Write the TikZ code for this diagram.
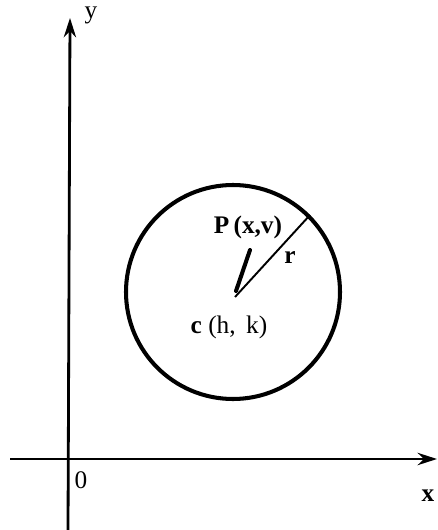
\documentclass[tikz,border=0pt]{standalone}
\usepackage{fontspec}
\setmainfont{Liberation Serif}
\usetikzlibrary{arrows.meta}

\begin{document}
\begin{tikzpicture}[x=0.02cm, y=-0.02cm,
      axis/.style={line width=1.6pt, -{Stealth[length=11pt, width=7pt]}},
      rim/.style={line width=2.3pt},
      radius/.style={line width=1.1pt},
      pen/.style={line width=2.3pt, line cap=round},
      lbl/.style={font=\Large, inner sep=0pt}
    ]
      \useasboundingbox (0,0) rectangle (437,530);

      \coordinate (O) at (68,459);
      \coordinate (Xl) at (10,459);
      \coordinate (Xr) at (437,459);
      \coordinate (Yb) at (68,530);
      \coordinate (Yt) at (70,18);

      \draw[axis] (Xl) -- (Xr);
      \draw[axis] (Yb) -- (Yt);

      \node[circle, rim, draw, minimum size=214*0.02cm, inner sep=0pt] (circ) at (233,292) {};
      \coordinate (C) at (235,297);
      \coordinate (R) at (circ.45);
      \coordinate (Pt) at (250,250);
      \coordinate (Pb) at (236,291);

      \draw[radius] (C) -- (R);
      \draw[pen] (Pb) -- (Pt);

      \node[lbl] (ylab) at (91,15) {y};
      \node[lbl] (olab) at (81,480) {0};
      \node[lbl, font=\Large\bfseries] (xlab) at (428,496) {x};
      \node[lbl, font=\Large\bfseries] (plab) at (248,227) {P\,(x,v)};
      \node[lbl, font=\Large\bfseries] (rlab) at (290,258) {r};
      \node[lbl] (clab) at (229,327) {\textbf{c}\ (h,\ \,k)};
    \end{tikzpicture}
\end{document}
